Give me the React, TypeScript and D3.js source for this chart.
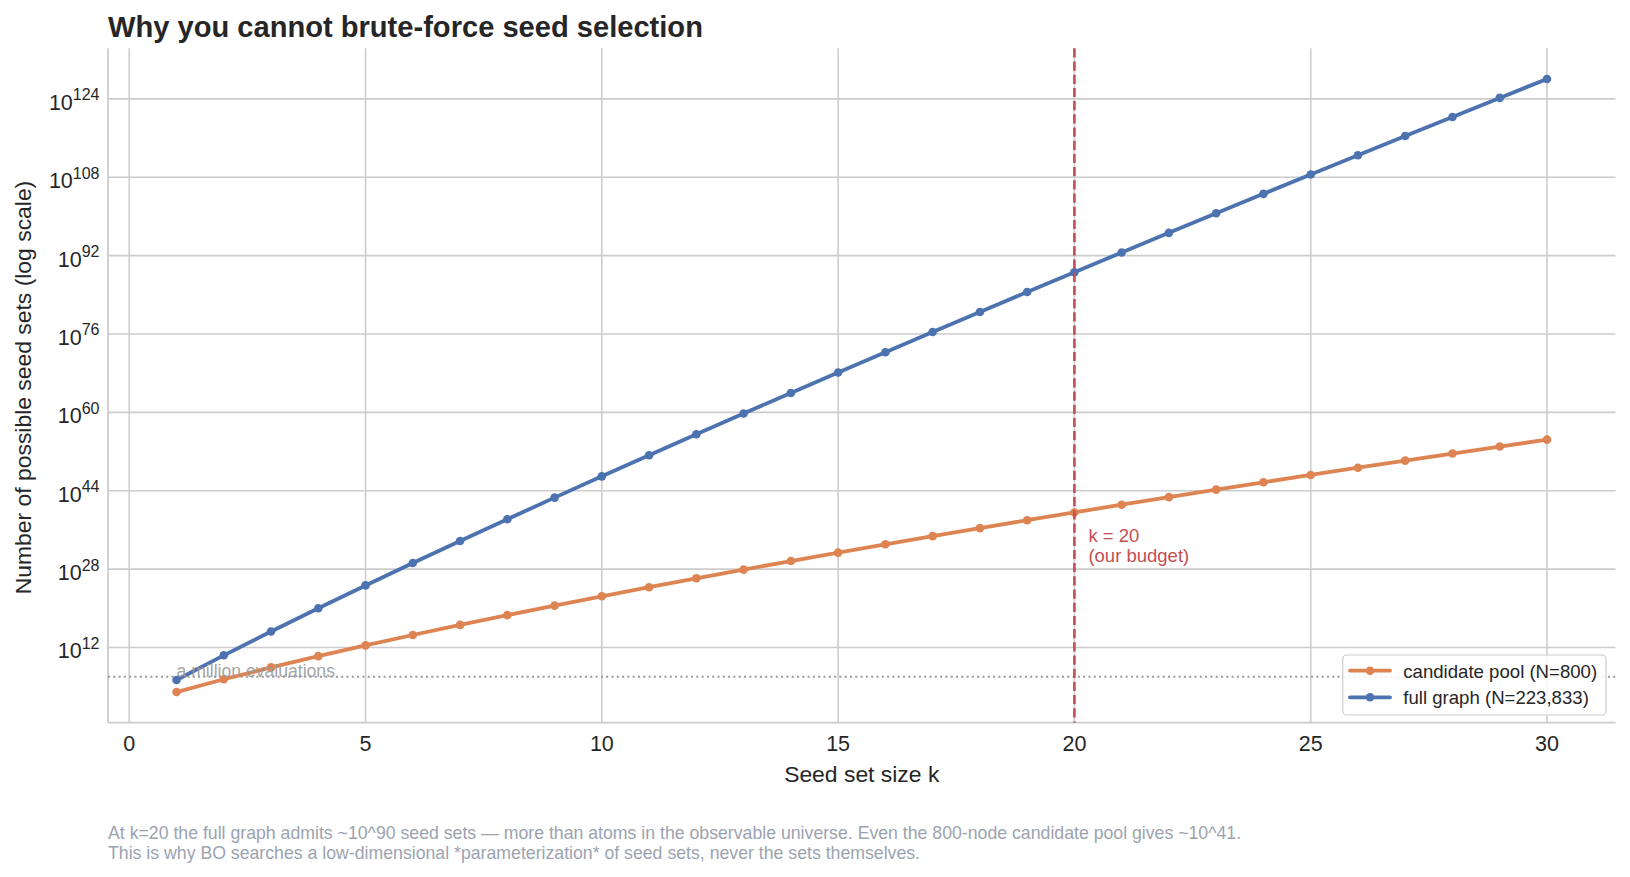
import * as d3 from 'd3';

// seed set size k
const kValues = [1, 2, 3, 4, 5, 6, 7, 8, 9, 10, 11, 12, 13, 14, 15, 16, 17, 18, 19, 20, 21, 22, 23, 24, 25, 26, 27, 28, 29, 30];

// log10 of number of possible seed sets
const poolExp = [2.90, 5.51, 7.93, 10.23, 12.43, 14.55, 16.61, 18.60, 20.55, 22.45, 24.30, 26.12, 27.90, 29.65, 31.37, 33.06, 34.73, 36.37, 37.98, 39.57, 41.14, 42.69, 44.22, 45.73, 47.22, 48.70, 50.15, 51.60, 53.02, 54.43];
const fullExp = [5.35, 10.40, 15.27, 20.02, 24.67, 29.24, 33.75, 38.19, 42.59, 46.94, 51.25, 55.52, 59.76, 63.96, 68.13, 72.28, 76.40, 80.49, 84.56, 88.61, 92.64, 96.65, 100.64, 104.61, 108.56, 112.49, 116.41, 120.31, 124.20, 128.07];

const xTicks = [0, 5, 10, 15, 20, 25, 30];
const yTickExp = [12, 28, 44, 60, 76, 92, 108, 124];

const budgetK = 20;
const millionExp = 6;

const seriesNames = ['candidate pool (N=800)', 'full graph (N=223,833)'];
const seriesColors = ['#dd8452', '#4c72b0'];

const footnote = [
  'At k=20 the full graph admits ~10^90 seed sets \u2014 more than atoms in the observable universe. Even the 800-node candidate pool gives ~10^41.',
  'This is why BO searches a low-dimensional *parameterization* of seed sets, never the sets themselves.',
];

const W = 1630;
const H = 877;
const margin = { left: 108, right: 1615.5, top: 48.3, bottom: 722.7 };
const font = '"Liberation Sans", Arial, sans-serif';
const grid = '#cccccc';

export default function App() {
  const xPad = (kValues[kValues.length - 1] - kValues[0]) * 0.05;
  const x = d3.scaleLinear()
    .domain([kValues[0] - xPad, kValues[kValues.length - 1] + xPad])
    .range([margin.left, margin.right]);

  const lo = d3.min(poolExp.concat(fullExp)) as number;
  const hi = d3.max(poolExp.concat(fullExp)) as number;
  const yPad = (hi - lo) * 0.05;
  const y = d3.scaleLog()
    .domain([Math.pow(10, lo - yPad), Math.pow(10, hi + yPad)])
    .range([margin.bottom, margin.top]);

  const series = [poolExp, fullExp].map((arr) => arr.map((e, i) => ({ k: kValues[i], v: Math.pow(10, e) })));
  const line = d3.line<{ k: number; v: number }>().x((d) => x(d.k)).y((d) => y(d.v));

  const yMillion = y(Math.pow(10, millionExp));
  const xBudget = x(budgetK);

  const legend = { x: 1342.7, y: 655, w: 263.3, h: 60 };

  return (
    <svg width={W} height={H} style={{ position: 'absolute', left: 0, top: 0, background: '#fff' }} fontFamily={font}>
      <rect x={0} y={0} width={W} height={H} fill="#fff" />

      {/* grid */}
      {xTicks.map((t) => (
        <line key={'gx' + t} x1={x(t)} x2={x(t)} y1={margin.top} y2={margin.bottom} stroke={grid} strokeWidth={1.6} />
      ))}
      {yTickExp.map((t) => (
        <line key={'gy' + t} x1={margin.left} x2={margin.right} y1={y(Math.pow(10, t))} y2={y(Math.pow(10, t))} stroke={grid} strokeWidth={1.6} />
      ))}

      {/* spines */}
      <line x1={margin.left} x2={margin.left} y1={margin.top} y2={margin.bottom} stroke={grid} strokeWidth={1.8} />
      <line x1={margin.left} x2={margin.right} y1={margin.bottom} y2={margin.bottom} stroke={grid} strokeWidth={1.8} />

      {/* a million evaluations */}
      <line x1={margin.left} x2={margin.right} y1={yMillion} y2={yMillion} stroke="#999" strokeWidth={2} strokeDasharray="2 3.3" />

      {/* series */}
      {series.map((s, i) => (
        <g key={'s' + i}>
          <path d={line(s) || ''} fill="none" stroke={seriesColors[i]} strokeWidth={3.8} strokeLinejoin="round" strokeLinecap="round" />
          {s.map((d) => (
            <circle key={d.k} cx={x(d.k)} cy={y(d.v)} r={4.3} fill={seriesColors[i]} />
          ))}
        </g>
      ))}

      <text x={x(kValues[0])} y={yMillion} fontSize={17.6} fill="#999" fillOpacity={0.9}>a million evaluations</text>

      {/* budget line */}
      <line x1={xBudget} x2={xBudget} y1={margin.top} y2={margin.bottom} stroke="#c44e52" strokeWidth={2.6} strokeDasharray="9.2 4" />
      <text x={xBudget + 14} y={541.7} fontSize={18.5} fill="#c44e52">
        <tspan x={xBudget + 14}>k = 20</tspan>
        <tspan x={xBudget + 14} dy={20}>(our budget)</tspan>
      </text>

      {/* x tick labels */}
      {xTicks.map((t) => (
        <text key={'tx' + t} x={x(t)} y={750.5} fontSize={21.5} fill="#262626" textAnchor="middle">{t}</text>
      ))}
      {/* y tick labels */}
      {yTickExp.map((t) => (
        <text key={'ty' + t} x={99.5} y={y(Math.pow(10, t)) + 11} fontSize={21.5} fill="#262626" textAnchor="end">
          10<tspan fontSize={16} dy={-9.5}>{t}</tspan>
        </text>
      ))}

      {/* axis labels */}
      <text x={(margin.left + margin.right) / 2} y={781.5} fontSize={22.9} fill="#262626" textAnchor="middle">Seed set size k</text>
      <text transform={`translate(31, ${(margin.top + margin.bottom) / 2 + 2}) rotate(-90)`} fontSize={22.9} fill="#262626" textAnchor="middle">
        Number of possible seed sets (log scale)
      </text>

      {/* title */}
      <text x={108} y={36.7} fontSize={29.1} fontWeight="bold" fill="#262626">Why you cannot brute-force seed selection</text>

      {/* legend */}
      <g>
        <rect x={legend.x} y={legend.y} width={legend.w} height={legend.h} rx={4} fill="#fff" fillOpacity={0.85} stroke="#cccccc" strokeWidth={1.2} />
        {seriesNames.map((name, i) => {
          const ly = 670.7 + i * 26.6;
          return (
            <g key={name}>
              <line x1={1350} x2={1390} y1={ly} y2={ly} stroke={seriesColors[i]} strokeWidth={3.8} strokeLinecap="round" />
              <circle cx={1370} cy={ly} r={4.3} fill={seriesColors[i]} />
              <text x={1403.3} y={ly + 7} fontSize={18.6} fill="#262626">{name}</text>
            </g>
          );
        })}
      </g>

      {/* footnote */}
      {footnote.map((t, i) => (
        <text key={'f' + i} x={108} y={839 + i * 20} fontSize={17.7} fill="#9ca3af">{t}</text>
      ))}
    </svg>
  );
}
